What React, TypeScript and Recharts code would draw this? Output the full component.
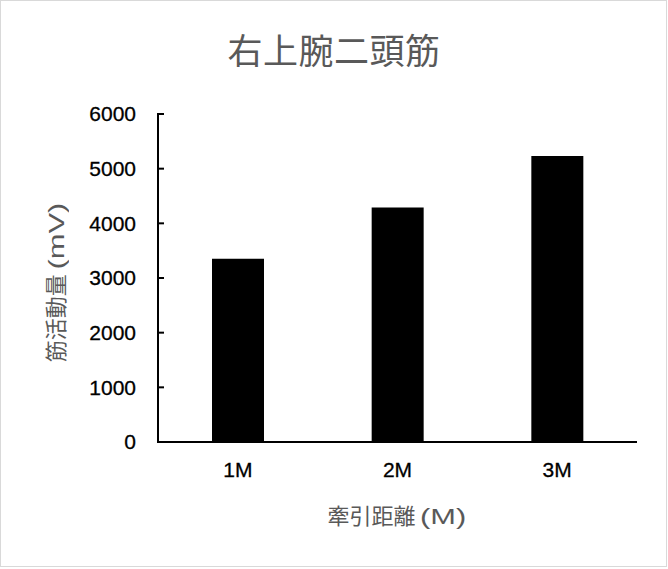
import { BarChart, Bar, XAxis, YAxis } from "recharts";

const categories = ["1M", "2M", "3M"];
const values = [3350, 4290, 5230];
const yTicks = [0, 1000, 2000, 3000, 4000, 5000, 6000];

const title = "右上腕二頭筋";
const xTitleJa = "牽引距離";
const xTitleUnit = "(M)";
const yTitleJa = "筋活動量";
const yTitleUnit = "(mV)";

const data = categories.map((c, i) => ({ cat: c, value: values[i] }));

const latin = "'Liberation Sans', Arial, sans-serif";
const cjk = "'Noto Sans CJK JP', 'Noto Sans CJK SC', sans-serif";
const grey = "#595959";
const yTickMargin = 22;

// latin part of the titles is drawn wider in the original
const Wide = ({ text, em }: { text: string; em: number }) => (
  <span
    style={{
      display: "inline-block",
      fontFamily: latin,
      transform: "scaleX(1.4)",
      transformOrigin: "left center",
      marginRight: `${em * 0.4}em`,
    }}
  >
    {text}
  </span>
);

// y tick: label on the left, short tick mark pointing into the plot
const YTick = (props: any) => {
  const { x, y, payload } = props;
  const ax = x + yTickMargin;
  return (
    <g>
      <line x1={ax - 1} x2={ax + 6} y1={y} y2={y} stroke="#000" strokeWidth={2} />
      <text
        x={x}
        y={y}
        dy="0.355em"
        textAnchor="end"
        fill="#000"
        stroke="#000"
        strokeWidth={0.3}
        fontSize={21}
        fontFamily={latin}
      >
        {payload.value}
      </text>
    </g>
  );
};

const App = () => {
  return (
    <div style={{ position: "absolute", left: 0, top: 0, width: 668, height: 569, background: "#fff" }}>
      <div
        style={{
          position: "absolute",
          left: 0,
          top: 0,
          width: 667,
          height: 567,
          border: "1.5px solid #d9d9d9",
          boxSizing: "border-box",
        }}
      />
      <div style={{ position: "absolute", left: 0, top: 0 }}>
        <BarChart width={668} height={569} data={data} margin={{ top: 114, right: 31, bottom: 0, left: 0 }}>
          <XAxis
            dataKey="cat"
            height={127}
            axisLine={{ stroke: "#000", strokeWidth: 2 }}
            tickLine={false}
            tickSize={0}
            tickMargin={20}
            tick={{ fill: "#000", stroke: "#000", strokeWidth: 0.3, fontSize: 21, fontFamily: latin }}
          />
          <YAxis
            domain={[0, 6000]}
            ticks={yTicks}
            width={158}
            axisLine={{ stroke: "#000", strokeWidth: 2 }}
            tickLine={false}
            tickSize={0}
            tickMargin={yTickMargin}
            tick={<YTick />}
          />
          <Bar dataKey="value" fill="#000" barSize={52} isAnimationActive={false} />
        </BarChart>
      </div>

      <div
        style={{
          position: "absolute",
          left: 0,
          top: 31,
          width: 668,
          textAlign: "center",
          fontFamily: cjk,
          fontSize: 35,
          lineHeight: "35px",
          letterSpacing: 0.5,
          color: grey,
        }}
      >
        {title}
      </div>

      <div
        style={{
          position: "absolute",
          left: 157,
          top: 502,
          width: 480,
          textAlign: "center",
          fontFamily: cjk,
          fontSize: 22,
          lineHeight: "24px",
          color: grey,
          whiteSpace: "nowrap",
        }}
      >
        {xTitleJa} <Wide text={xTitleUnit} em={1.5} />
      </div>

      <div
        style={{
          position: "absolute",
          left: 55 - 150,
          top: 281 - 12,
          width: 300,
          textAlign: "center",
          fontFamily: cjk,
          fontSize: 22,
          lineHeight: "24px",
          color: grey,
          whiteSpace: "nowrap",
          transform: "rotate(-90deg)",
        }}
      >
        {yTitleJa} <Wide text={yTitleUnit} em={2.17} />
      </div>
    </div>
  );
};

export default App;
